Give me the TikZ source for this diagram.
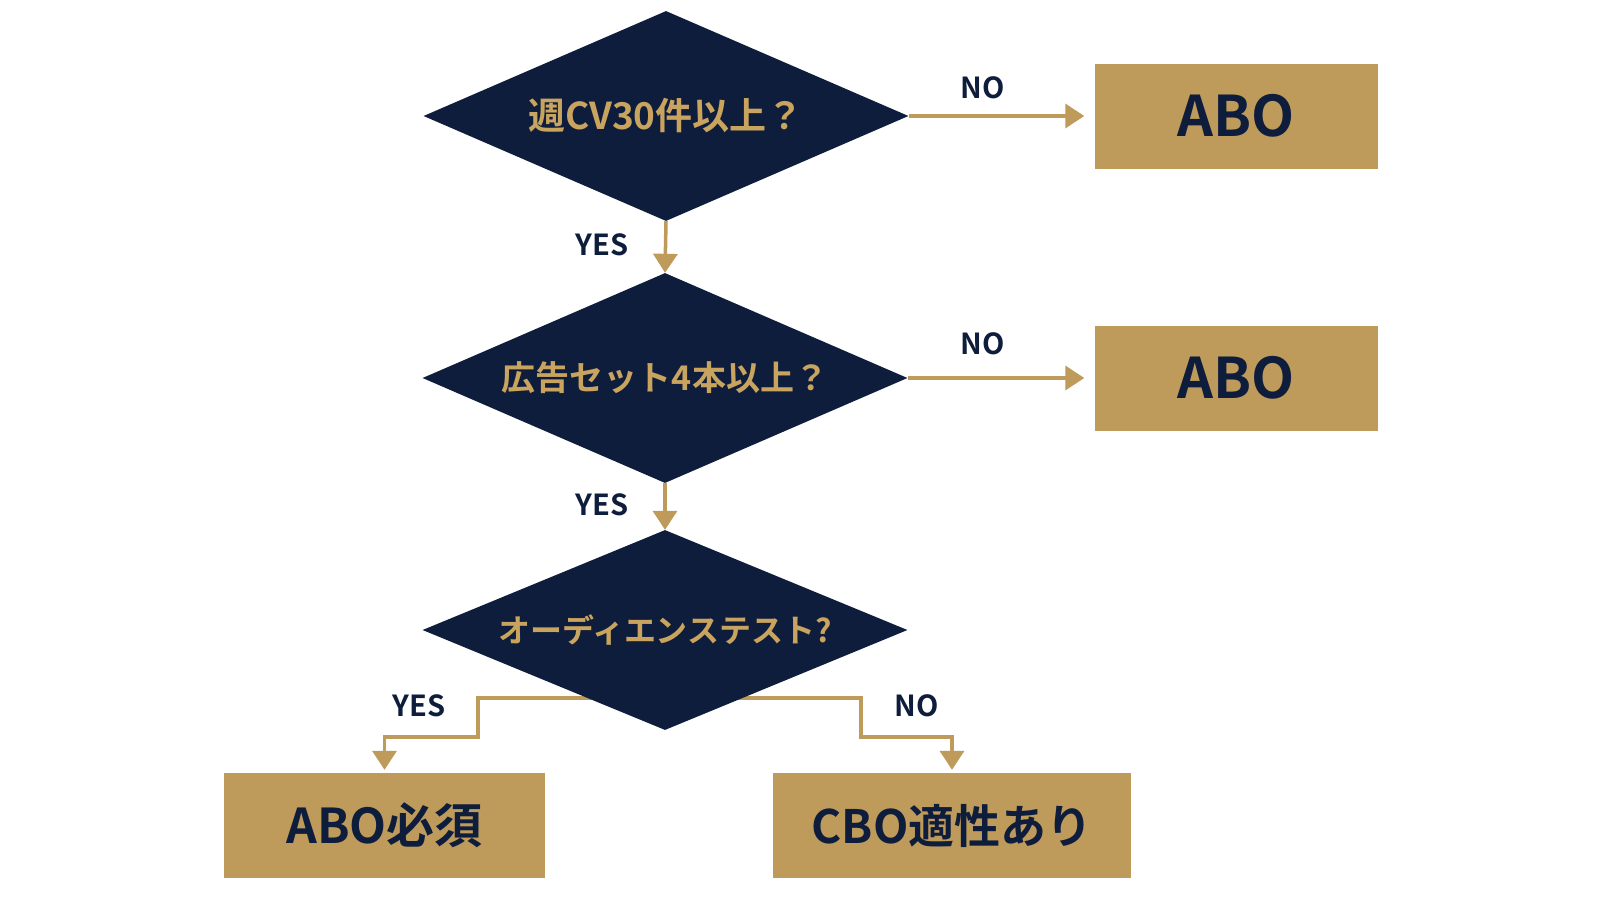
\documentclass[tikz,border=0pt]{standalone}
\usepackage{fontspec}
\setmainfont{Noto Sans CJK JP}[BoldFont={Noto Sans CJK JP Bold}]
\usetikzlibrary{shapes.geometric,arrows.meta,backgrounds}
\definecolor{navy}{HTML}{0F1D3D}
\definecolor{gold}{HTML}{BE9B5A}
\definecolor{goldtxt}{HTML}{C9A45E}
\tikzset{
  decision/.style={diamond, shape aspect=2.4, fill=navy, inner sep=0pt, minimum width=485pt, minimum height=210pt, text=goldtxt, font=\bfseries\fontsize{34}{34}\selectfont},
  result/.style={rectangle, fill=gold, inner sep=0pt, minimum width=283pt, minimum height=105pt, text=navy, font=\bfseries\fontsize{56}{56}\selectfont},
  conn/.style={draw=gold, line width=3.5pt, -{Triangle[length=19pt,width=24pt]}},
  lbl/.style={text=navy, font=\bfseries\fontsize{29}{29}\selectfont, inner sep=0pt},
}
\begin{document}
\begin{tikzpicture}[x=1pt,y=-1pt]
\useasboundingbox (0,0) rectangle (1600,900);
\node[decision, font=\bfseries\fontsize{37}{37}\selectfont] (d1) at (666,116) {週CV30件以上？};
\node[decision] (d2) at (665,378) {広告セット4本以上？};
\node[decision, minimum height=200pt, font=\bfseries\fontsize{32}{32}\selectfont] (d3) at (665,630) {オーディエンステスト?};
\node[result] (b1) at (1236,116) {ABO};
\node[result] (b2) at (1236,378) {ABO};
\node[result, minimum width=321pt, font=\bfseries\fontsize{48}{48}\selectfont] (b3) at (384.5,825.5) {ABO必須};
\node[result, minimum width=358pt, font=\bfseries\fontsize{46}{46}\selectfont] (b4) at (952,825.5) {CBO適性あり};
\coordinate (ly) at (478,737);
\coordinate (ry) at (861,737);
\draw[conn, shorten >=10pt] (d1.east) -- (b1.west);
\draw[conn] (d1.south) -- (d2.north);
\draw[conn, shorten >=10pt] (d2.east) -- (b2.west);
\draw[conn] (d2.south) -- (d3.north);
\begin{scope}[on background layer]
\fill[white] (0,0) rectangle (1600,900);
\draw[conn, shorten >=3pt] ([yshift=-68pt]d3.center) -| (ly) -| (b3.north);
\draw[conn, shorten >=3pt] ([yshift=-68pt]d3.center) -| (ry) -| (b4.north);
\end{scope}
\node[lbl] (n1) at (983,88) {NO};
\node[lbl] (n2) at (983,344) {NO};
\node[lbl] (y1) at (602,245) {YES};
\node[lbl] (y2) at (602,505) {YES};
\node[lbl] (y3) at (419,706) {YES};
\node[lbl] (n3) at (917,706) {NO};
\end{tikzpicture}
\end{document}
